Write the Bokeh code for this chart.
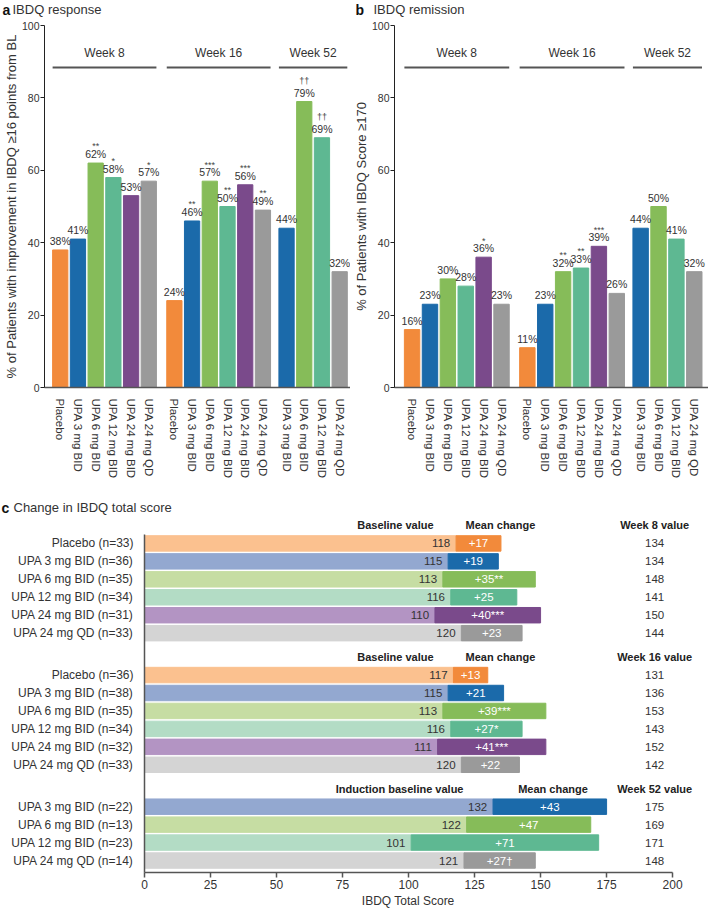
import math
from bokeh.plotting import figure
from bokeh.models import Range1d, FixedTicker, ColumnDataSource
from bokeh.layouts import column, row
from bokeh.embed import file_html
from bokeh.resources import INLINE
from bokeh.core.properties import value

FONT = "Liberation Sans"
TXT = "#333333"

# ---------------- data ----------------
arms = ["Placebo", "UPA 3 mg BID", "UPA 6 mg BID", "UPA 12 mg BID", "UPA 24 mg BID", "UPA 24 mg QD"]
arm_dark = ["#F28A3B", "#1B6AAA", "#86BC59", "#5EB892", "#7A4A8B", "#9A9A9A"]
arm_light = ["#FBC18F", "#93A8D0", "#C6DDA3", "#B3DCC5", "#B394C3", "#D4D4D4"]

week_names = ["Week 8", "Week 16", "Week 52"]
week_arms = [[0, 1, 2, 3, 4, 5], [0, 1, 2, 3, 4, 5], [1, 2, 3, 5]]

resp_w8 = [38, 41, 62, 58, 53, 57]
resp_w16 = [24, 46, 57, 50, 56, 49]
resp_w52 = [44, 79, 69, 32]
resp_sig_w8 = ["", "", "**", "*", "", "*"]
resp_sig_w16 = ["", "**", "***", "**", "***", "**"]
resp_sig_w52 = ["", "\u2020\u2020", "\u2020\u2020", ""]

rem_w8 = [16, 23, 30, 28, 36, 23]
rem_w16 = [11, 23, 32, 33, 39, 26]
rem_w52 = [44, 50, 41, 32]
rem_sig_w8 = ["", "", "", "", "*", ""]
rem_sig_w16 = ["", "", "**", "**", "***", ""]
rem_sig_w52 = ["", "", "", ""]

w8_rows = ["Placebo (n=33)", "UPA 3 mg BID (n=36)", "UPA 6 mg BID (n=35)", "UPA 12 mg BID (n=34)", "UPA 24 mg BID (n=31)", "UPA 24 mg QD (n=33)"]
w8_base = [118, 115, 113, 116, 110, 120]
w8_change = [17, 19, 35, 25, 40, 23]
w8_change_lab = ["+17", "+19", "+35**", "+25", "+40***", "+23"]
w8_value = [134, 134, 148, 141, 150, 144]

w16_rows = ["Placebo (n=36)", "UPA 3 mg BID (n=38)", "UPA 6 mg BID (n=35)", "UPA 12 mg BID (n=34)", "UPA 24 mg BID (n=32)", "UPA 24 mg QD (n=33)"]
w16_base = [117, 115, 113, 116, 111, 120]
w16_change = [13, 21, 39, 27, 41, 22]
w16_change_lab = ["+13", "+21", "+39***", "+27*", "+41***", "+22"]
w16_value = [131, 136, 153, 143, 152, 142]

w52_rows = ["UPA 3 mg BID (n=22)", "UPA 6 mg BID (n=13)", "UPA 12 mg BID (n=23)", "UPA 24 mg QD (n=14)"]
w52_base = [132, 122, 101, 121]
w52_change = [43, 47, 71, 27]
w52_change_lab = ["+43", "+47", "+71", "+27\u2020"]
w52_value = [175, 169, 171, 148]

c_headers = [["Baseline value", "Mean change", "Week 8 value"],
             ["Baseline value", "Mean change", "Week 16 value"],
             ["Induction baseline value", "Mean change", "Week 52 value"]]

titles_top = [("a", "IBDQ response"), ("b", "IBDQ remission")]
title_c = ("c", "Change in IBDQ total score")

# ---------------- layout constants ----------------
GROUP_START = [0, 116, 230]
PITCH = 18
BAR_W = 15.5


def style(p):
    p.xgrid.grid_line_color = None
    p.ygrid.grid_line_color = None
    p.outline_line_color = None
    p.background_fill_color = "white"
    p.border_fill_color = "white"


def title_strip(width, items):
    f = figure(width=width, height=18, x_range=Range1d(0, width), y_range=Range1d(18, 0),
               x_axis_type=None, y_axis_type=None, output_backend="svg", toolbar_location=None,
               min_border_left=0, min_border_right=0, min_border_top=0, min_border_bottom=0)
    style(f)
    for (lx, letter, tx, text) in items:
        f.text(x=[lx], y=[9], text=[letter], text_baseline="middle", text_font=value(FONT),
               text_font_size="14px", text_font_style="bold", text_color="#111111")
        f.text(x=[tx], y=[9], text=[text], text_baseline="middle", text_font=value(FONT),
               text_font_size="13px", text_color=TXT)
    return f


def bar_panel(pcts, sigs, ylabel, width, bl, br, xr):
    xs, tops, cols, labs, sg, sgy, ticklab = [], [], [], [], [], [], {}
    for g in range(3):
        for i, a in enumerate(week_arms[g]):
            x = GROUP_START[g] + i * PITCH
            v = pcts[g][i]
            s = sigs[g][i]
            xs.append(x)
            tops.append(v)
            cols.append(arm_dark[a])
            labs.append(f"{v}%")
            sg.append(s)
            sgy.append(v + (5.6 if "\u2020" in s else 4.6))
            ticklab[x] = arms[a]
    src = ColumnDataSource(dict(x=xs, top=tops, color=cols, lab=labs, sig=sg, sigy=sgy,
                                laby=[t + 0.8 for t in tops]))
    p = figure(width=width, height=480, x_range=Range1d(*xr), y_range=Range1d(0, 100),
               output_backend="svg", toolbar_location=None,
               min_border_left=bl, min_border_right=br, min_border_top=7, min_border_bottom=111)
    style(p)
    p.vbar(x="x", top="top", bottom=0, width=BAR_W, color="color", source=src)
    p.text(x="x", y="laby", text="lab", source=src, text_align="center", text_baseline="bottom",
           text_font=value(FONT), text_font_size="10.5px", text_color=TXT)
    p.text(x="x", y="sigy", text="sig", source=src, text_align="center", text_baseline="alphabetic",
           text_font=value(FONT), text_font_size="9px", text_color="#444444")
    hx0, hx1, hxc = [], [], []
    for g in range(3):
        n = len(week_arms[g])
        a0 = GROUP_START[g] - BAR_W / 2
        a1 = GROUP_START[g] + (n - 1) * PITCH + BAR_W / 2
        hx0.append(a0)
        hx1.append(a1)
        hxc.append((a0 + a1) / 2)
    p.segment(x0=hx0, x1=hx1, y0=[88.4] * 3, y1=[88.4] * 3, line_color="#555555", line_width=2)
    p.text(x=hxc, y=[90.6] * 3, text=week_names, text_align="center", text_baseline="bottom",
           text_font=value(FONT), text_font_size="12px", text_color=TXT)
    xa = p.xaxis[0]
    xa.ticker = FixedTicker(ticks=xs)
    xa.major_label_overrides = ticklab
    xa.major_label_orientation = -math.pi / 2
    xa.major_tick_line_color = None
    xa.minor_tick_line_color = None
    xa.axis_line_color = "#555555"
    xa.axis_line_width = 1.5
    xa.major_label_text_font = FONT
    xa.major_label_text_font_size = "11.5px"
    xa.major_label_text_color = TXT
    xa.major_label_standoff = 5
    ya = p.yaxis[0]
    ya.ticker = FixedTicker(ticks=[0, 20, 40, 60, 80, 100])
    ya.minor_tick_line_color = None
    ya.major_tick_in = 0
    ya.major_tick_out = 4
    ya.axis_line_color = "#222222"
    ya.major_tick_line_color = "#222222"
    ya.major_label_text_font = FONT
    ya.major_label_text_font_size = "10.5px"
    ya.major_label_text_color = TXT
    ya.major_label_standoff = 1
    ya.axis_label = ylabel
    ya.axis_label_text_font = FONT
    ya.axis_label_text_font_size = "13px"
    ya.axis_label_text_font_style = "normal"
    ya.axis_label_text_color = TXT
    ya.axis_label_standoff = 0
    return p


pa = bar_panel([resp_w8, resp_w16, resp_w52], [resp_sig_w8, resp_sig_w16, resp_sig_w52],
               "% of Patients with improvement in IBDQ \u226516 points from BL",
               350, 39, 0, (-16, 295))
pb = bar_panel([rem_w8, rem_w16, rem_w52], [rem_sig_w8, rem_sig_w16, rem_sig_w52],
               "% of Patients with IBDQ Score \u2265170",
               358, 42, 0, (-17.7, 298.3))

t_top = title_strip(708, [(2, titles_top[0][0], 12, titles_top[0][1]),
                          (355, titles_top[1][0], 373, titles_top[1][1])])
t_c = title_strip(708, [(1, title_c[0], 13, title_c[1])])

# ---------------- panel c ----------------
BLOCK_Y = [543, 675, 807]
HEADER_Y = [525, 657, 789]
ROW_P = 18
BASE_HDR_X = [109.5, 109.5, 120.8]
MEAN_HDR_X = [134.8, 134.8, 154.7]
VAL_X = 193.2

blocks = [(w8_rows, w8_base, w8_change, w8_change_lab, w8_value, week_arms[0]),
          (w16_rows, w16_base, w16_change, w16_change_lab, w16_value, week_arms[1]),
          (w52_rows, w52_base, w52_change, w52_change_lab, w52_value, week_arms[2])]

ys, base, end, mid, clab, val, dcol, lcol, basex = [], [], [], [], [], [], [], [], []
ylab = {}
for b, (rows_, bs, ch, chl, vals, ar) in enumerate(blocks):
    for i in range(len(rows_)):
        y = BLOCK_Y[b] + i * ROW_P
        ys.append(y)
        base.append(bs[i])
        end.append(bs[i] + ch[i])
        mid.append(bs[i] + ch[i] / 2)
        clab.append(chl[i])
        val.append(str(vals[i]))
        dcol.append(arm_dark[ar[i]])
        lcol.append(arm_light[ar[i]])
        basex.append(bs[i] - 2.2)
        ylab[y] = rows_[i]
csrc = ColumnDataSource(dict(y=ys, base=base, end=end, mid=mid, clab=clab, val=val,
                             dcol=dcol, lcol=lcol, basex=basex, blab=[str(v) for v in base],
                             valx=[VAL_X] * len(ys)))

pc = figure(width=708, height=394, x_range=Range1d(0, 213.6), y_range=Range1d(873, 516),
            output_backend="svg", toolbar_location=None,
            min_border_left=144, min_border_right=0, min_border_top=0, min_border_bottom=37)
style(pc)
pc.hbar(y="y", left=0, right="base", height=15.5, color="lcol", source=csrc)
pc.hbar(y="y", left="base", right="end", height=15.5, color="dcol", source=csrc)
pc.text(x="basex", y="y", text="blab", source=csrc, text_align="right", text_baseline="middle",
        text_font=value(FONT), text_font_size="11.5px", text_color=TXT)
pc.text(x="mid", y="y", text="clab", source=csrc, text_align="center", text_baseline="middle",
        text_font=value(FONT), text_font_size="11.5px", text_color="white")
pc.text(x="valx", y="y", text="val", source=csrc, text_align="center", text_baseline="middle",
        text_font=value(FONT), text_font_size="11.5px", text_color=TXT)
pc.text(x=BASE_HDR_X, y=HEADER_Y, text=[h[0] for h in c_headers], text_align="right",
        text_baseline="middle", text_font=value(FONT), text_font_size="11px",
        text_font_style="bold", text_color="#222222")
pc.text(x=MEAN_HDR_X, y=HEADER_Y, text=[h[1] for h in c_headers], text_align="center",
        text_baseline="middle", text_font=value(FONT), text_font_size="11px",
        text_font_style="bold", text_color="#222222")
pc.text(x=[VAL_X] * 3, y=HEADER_Y, text=[h[2] for h in c_headers], text_align="center",
        text_baseline="middle", text_font=value(FONT), text_font_size="11px",
        text_font_style="bold", text_color="#222222")

xa = pc.xaxis[0]
xa.ticker = FixedTicker(ticks=[0, 25, 50, 75, 100, 125, 150, 175, 200])
xa.bounds = (0, 200)
xa.minor_tick_line_color = None
xa.major_tick_in = 0
xa.major_tick_out = 5
xa.axis_line_color = "#555555"
xa.major_tick_line_color = "#555555"
xa.axis_line_width = 1.5
xa.major_tick_line_width = 1.5
xa.major_label_text_font = FONT
xa.major_label_text_font_size = "12px"
xa.major_label_text_color = TXT
xa.major_label_standoff = 2
xa.axis_label = "IBDQ Total Score" + "\u00a0" * 11
xa.axis_label_text_font = FONT
xa.axis_label_text_font_size = "12px"
xa.axis_label_text_font_style = "normal"
xa.axis_label_text_color = TXT
xa.axis_label_standoff = 2

ya = pc.yaxis[0]
ya.ticker = FixedTicker(ticks=ys)
ya.major_label_overrides = ylab
ya.bounds = (534, 873)
ya.major_tick_line_color = None
ya.minor_tick_line_color = None
ya.axis_line_color = "#555555"
ya.axis_line_width = 1.5
ya.major_label_text_font = FONT
ya.major_label_text_font_size = "12px"
ya.major_label_text_color = TXT
ya.major_label_standoff = 5

layout = column(row(t_top), row(pa, pb), row(t_c), row(pc))
open("out.html", "w").write(file_html(layout, INLINE))
